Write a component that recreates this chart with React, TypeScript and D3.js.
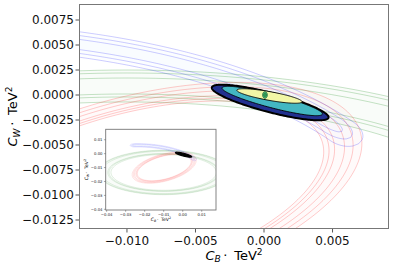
import React from 'react'
import * as d3 from 'd3'

const W = 393
const H = 268

const xTicksMain = [-0.01, -0.005, 0, 0.005]
const yTicksMain = [0.0075, 0.005, 0.0025, 0, -0.0025, -0.005, -0.0075, -0.01, -0.0125]
const ticksInset = [-0.04, -0.03, -0.02, -0.01, 0, 0.01]

// single observable bands: centre x, centre y, semi-axis a, semi-axis b, tilt (deg)
const greenEllipse = [-0.01, -0.0135, 0.032, 0.0148, 0]
const greenLevels = [1.081, 1.061, 1.027, 0.919, 0.899, 0.865]
const redEllipse = [-0.00974, -0.01002, 0.018, 0.0094, 24]
const redLevels = [1, 0.962, 0.925, 0.882, 0.858, 0.835]
// blue band follows an arc: centre x, centre y, radius x, radius y
const blueArc = [-0.024, -0.0145, 0.035, 0.0205]
const blueHalfWidth = [0.00125, 0.00088, 0.0005]
const blueFrom = [28, 30, 32]
const blueTo = [96, 95, 94]

// combined fit contours (outer -> inner) and best point
const fitOuter = [0.00045, -0.00075, 0.00452, 0.00094, -20]
const fitMid = [0.0006, -0.0006, 0.00389, 0.00066, -20]
const fitInner = [0.0004, -0.0001, 0.00245, 0.00043, -14]
const fitBest = [0.00007, 0, 0.00017, 0.00033, 0]

const rad = (d: number) => (d * Math.PI) / 180

function ellipsePoints(p: number[], s = 1, n = 200): [number, number][] {
  const [cx, cy, a, b, deg] = p
  const th = rad(deg)
  const pts: [number, number][] = []
  for (let i = 0; i < n; i++) {
    const t = (2 * Math.PI * i) / n
    const u = s * a * Math.cos(t)
    const v = s * b * Math.sin(t)
    pts.push([cx + u * Math.cos(th) - v * Math.sin(th), cy + u * Math.sin(th) + v * Math.cos(th)])
  }
  return pts
}

function bananaPoints(w: number, from: number, to: number, n = 240): [number, number][] {
  const [cx, cy, A, B] = blueArc
  const cap = 4
  const up: [number, number][] = []
  const lo: [number, number][] = []
  for (let i = 0; i <= n; i++) {
    const deg = from + ((to - from) * i) / n
    const phi = rad(deg)
    const d = Math.min(deg - from, to - deg)
    const k = d >= cap ? 1 : Math.sqrt(Math.max(0, 1 - (1 - d / cap) ** 2))
    const px = cx + A * Math.cos(phi)
    const py = cy + B * Math.sin(phi)
    let nx = B * Math.cos(phi)
    let ny = A * Math.sin(phi)
    const L = Math.hypot(nx, ny)
    nx /= L
    ny /= L
    up.push([px + w * k * nx, py + w * k * ny])
    lo.push([px - w * k * nx, py - w * k * ny])
  }
  return up.concat(lo.reverse())
}

function Bands({ sx, sy, lw }: any) {
  const line = d3.line<[number, number]>().x(d => sx(d[0])).y(d => sy(d[1])).curve(d3.curveLinearClosed)
  const ring = (p: number[], lv: number[]) =>
    (line(ellipsePoints(p, Math.max(...lv))) || '') + (line(ellipsePoints(p, Math.min(...lv))) || '')
  return (
    <g>
      <path d={ring(greenEllipse, greenLevels)} fill="#008000" fillOpacity={0.025} fillRule="evenodd" />
      {greenLevels.map((s, i) => (
        <path key={'g' + i} d={line(ellipsePoints(greenEllipse, s)) || ''} fill="none"
          stroke="#008000" strokeOpacity={0.22} strokeWidth={lw} />
      ))}
      <path d={ring(redEllipse, redLevels)} fill="#ff0000" fillOpacity={0.02} fillRule="evenodd" />
      {redLevels.map((s, i) => (
        <path key={'r' + i} d={line(ellipsePoints(redEllipse, s)) || ''} fill="none"
          stroke="#ff0000" strokeOpacity={0.2} strokeWidth={lw} />
      ))}
      {blueHalfWidth.map((w, i) => (
        <path key={'b' + i} d={line(bananaPoints(w, blueFrom[i], blueTo[i])) || ''} fill="#2848c0"
          fillOpacity={0.008} stroke="#0000ff" strokeOpacity={0.2} strokeWidth={lw} />
      ))}
    </g>
  )
}

function Fit({ sx, sy }: any) {
  const line = d3.line<[number, number]>().x(d => sx(d[0])).y(d => sy(d[1])).curve(d3.curveLinearClosed)
  return (
    <g>
      <path d={line(ellipsePoints(fitOuter)) || ''} fill="#22318f" stroke="#000" strokeWidth={2} />
      <path d={line(ellipsePoints(fitMid)) || ''} fill="#43b7c2" stroke="#000" strokeWidth={0.9} />
      <path d={line(ellipsePoints(fitInner)) || ''} fill="#f2f7a6" stroke="#000" strokeWidth={0.9} />
      <path d={line(ellipsePoints(fitBest)) || ''} fill="#52c27c" stroke="#1b5e34" strokeWidth={0.9} />
      <path d={line(ellipsePoints(fitBest, 0.45)) || ''} fill="none" stroke="#1b5e34" strokeWidth={0.6} />
    </g>
  )
}

function Title({ x, y, sub, size, rotate }: any) {
  return (
    <text x={x} y={y} fontSize={size} textAnchor="middle" fill="#000"
      transform={rotate ? `rotate(-90 ${x} ${y})` : undefined}>
      <tspan fontStyle="italic">C</tspan>
      <tspan fontStyle="italic" fontSize={size * 0.7} dy={size * 0.22}>{sub}</tspan>
      <tspan dy={-size * 0.22}>{'\u2009·\u2009 TeV'}</tspan>
      <tspan fontSize={size * 0.7} dy={-size * 0.38}>2</tspan>
    </text>
  )
}

export default function App() {
  const main = { l: 79, t: 4, r: 389, b: 229 }
  const ins = { l: 105.7, t: 129.3, r: 216, b: 210 }
  const x = d3.scaleLinear().domain([-0.0135, 0.00912]).range([main.l, main.r])
  const y = d3.scaleLinear().domain([-0.0134, 0.0091]).range([main.b, main.t])
  const ix = d3.scaleLinear().domain([-0.0405, 0.0175]).range([ins.l, ins.r])
  const iy = d3.scaleLinear().domain([-0.0405, 0.0175]).range([ins.b, ins.t])
  const fy = d3.format('.4f')
  const fx = d3.format('.3f')
  const fi = d3.format('.2f')
  const iline = d3.line<[number, number]>().x(d => ix(d[0])).y(d => iy(d[1])).curve(d3.curveLinearClosed)

  return (
    <svg width={W} height={H} style={{ position: 'absolute', left: 0, top: 0, background: '#fff' }}
      fontFamily="'DejaVu Sans', sans-serif">
      <defs>
        <clipPath id="clip-main">
          <rect x={main.l} y={main.t} width={main.r - main.l} height={main.b - main.t} />
        </clipPath>
        <clipPath id="clip-inset">
          <rect x={ins.l} y={ins.t} width={ins.r - ins.l} height={ins.b - ins.t} />
        </clipPath>
      </defs>

      <g clipPath="url(#clip-main)">
        <Bands sx={x} sy={y} lw={1} />
        <Fit sx={x} sy={y} />
      </g>
      <rect x={main.l + 0.5} y={main.t + 0.5} width={main.r - main.l - 1} height={main.b - main.t - 1}
        fill="none" stroke="#777" strokeWidth={1} />

      {yTicksMain.map(t => (
        <g key={'y' + t}>
          <line x1={main.l - 3.5} x2={main.l} y1={y(t)} y2={y(t)} stroke="#555" />
          <text x={main.l - 5} y={y(t)} dy="0.36em" fontSize={12} textAnchor="end" fill="#111">{fy(t)}</text>
        </g>
      ))}
      {xTicksMain.map(t => (
        <g key={'x' + t}>
          <line x1={x(t)} x2={x(t)} y1={main.b} y2={main.b + 3.5} stroke="#555" />
          <text x={x(t)} y={245} fontSize={12} textAnchor="middle" fill="#111">{fx(t)}</text>
        </g>
      ))}
      <Title x={(main.l + main.r) / 2} y={259.5} sub="B" size={13} />
      <Title x={17} y={(main.t + main.b) / 2} sub="W" size={13} rotate />

      {/* inset: full view */}
      <rect x={ins.l} y={ins.t} width={ins.r - ins.l} height={ins.b - ins.t} fill="#fff" />
      <g clipPath="url(#clip-inset)">
        <Bands sx={ix} sy={iy} lw={0.5} />
        <path d={iline(ellipsePoints(fitOuter)) || ''} fill="#000" stroke="#000" strokeWidth={1.2} />
      </g>
      <rect x={ins.l} y={ins.t} width={ins.r - ins.l} height={ins.b - ins.t}
        fill="none" stroke="#777" strokeWidth={0.9} />
      {ticksInset.map(t => (
        <g key={'i' + t}>
          <line x1={ins.l - 1.8} x2={ins.l} y1={iy(t)} y2={iy(t)} stroke="#555" strokeWidth={0.5} />
          <text x={ins.l - 3.2} y={iy(t)} dy="0.36em" fontSize={3.8} textAnchor="end" fill="#111">{fi(t)}</text>
          <line x1={ix(t)} x2={ix(t)} y1={ins.b} y2={ins.b + 1.8} stroke="#555" strokeWidth={0.5} />
          <text x={ix(t)} y={ins.b + 5.6} fontSize={3.8} textAnchor="middle" fill="#111">{fi(t)}</text>
        </g>
      ))}
      <Title x={(ins.l + ins.r) / 2} y={221} sub="B" size={4.6} />
      <Title x={88} y={(ins.t + ins.b) / 2} sub="W" size={4.6} rotate />
    </svg>
  )
}
